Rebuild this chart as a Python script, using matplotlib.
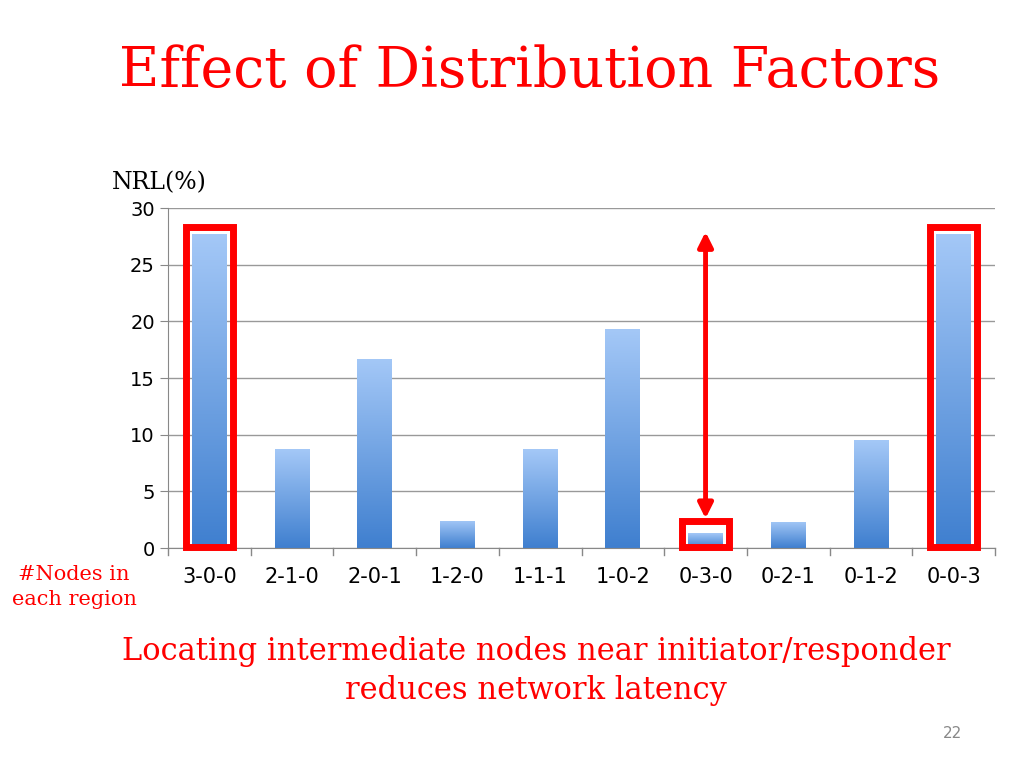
import matplotlib
matplotlib.use("Agg")
import matplotlib.pyplot as plt
import numpy as np
from matplotlib.patches import Rectangle, FancyArrowPatch

categories = ["3-0-0","2-1-0","2-0-1","1-2-0","1-1-1","1-0-2","0-3-0","0-2-1","0-1-2","0-0-3"]
values = [27.7, 8.7, 16.7, 2.4, 8.7, 19.3, 1.3, 2.3, 9.5, 27.7]
highlight = [0, 6, 9]
yticks = [0, 5, 10, 15, 20, 25, 30]

fig = plt.figure(figsize=(10.24, 7.68), dpi=100)
ax = fig.add_axes([168/1024, 1-548/768, (995-168)/1024, (548-208)/768])
x = np.arange(len(categories))
bw = 0.42
grad = np.linspace(0, 1, 256).reshape(-1, 1)
cmap = matplotlib.colors.LinearSegmentedColormap.from_list("g", ["#3F7FCF", "#A4C8F7"])
for xi, v in zip(x, values):
    bar = ax.bar(xi, v, bw, color="none", zorder=2)[0]
    im = ax.imshow(grad, extent=[xi-bw/2, xi+bw/2, 0, v], origin="lower",
                   cmap=cmap, aspect="auto", zorder=2)
    im.set_clip_path(bar)
for i in highlight:
    v = values[i]
    ax.add_patch(Rectangle((i-0.28, 0.1), 0.56, max(v, 1.3)+0.5 if v > 5 else 2.3,
                           fill=False, ec="#FF0000", lw=5, zorder=4, clip_on=False))
ax.add_patch(FancyArrowPatch((6, 2.6), (6, 27.9), arrowstyle="<|-|>", mutation_scale=22,
                             color="#FF0000", lw=3.5, zorder=4, shrinkA=0, shrinkB=0))
ax.set_xlim(-0.5, 9.5)
ax.set_ylim(0, 30)
ax.set_yticks(yticks)
ax.set_xticks(x)
ax.set_xticklabels(categories)
ax.tick_params(axis="x", labelsize=15, length=0, pad=14)
ax.tick_params(axis="y", labelsize=14, length=6, color="#888888")
for xb in np.arange(-0.5, 10, 1):
    ax.plot([xb, xb], [0, -0.6], color="#888888", lw=1, clip_on=False)
ax.grid(axis="y", color="#999999", lw=1, zorder=0)
ax.set_axisbelow(True)
for s in ["top", "right"]:
    ax.spines[s].set_visible(False)
ax.spines["left"].set_color("#888888")
ax.spines["bottom"].set_color("#888888")

fig.text(530/1024, 1-72/768, "Effect of Distribution Factors", color="#FF0000",
         fontsize=40, family="DejaVu Serif", ha="center", va="center")
fig.text(112/1024, 1-183/768, "NRL(%)", fontsize=17, family="DejaVu Serif", ha="left", va="center")
fig.text(74/1024, 1-587/768, "#Nodes in\neach region", color="#FF0000", fontsize=15,
         family="DejaVu Serif", ha="center", va="center", linespacing=1.4)
fig.text(536/1024, 1-671/768, "Locating intermediate nodes near initiator/responder\nreduces network latency",
         color="#FF0000", fontsize=22, family="DejaVu Serif", ha="center", va="center", linespacing=1.3)
fig.text(953/1024, 1-734/768, "22", color="#888888", fontsize=11, ha="center", va="center")
fig.savefig("out.png", dpi=100)
